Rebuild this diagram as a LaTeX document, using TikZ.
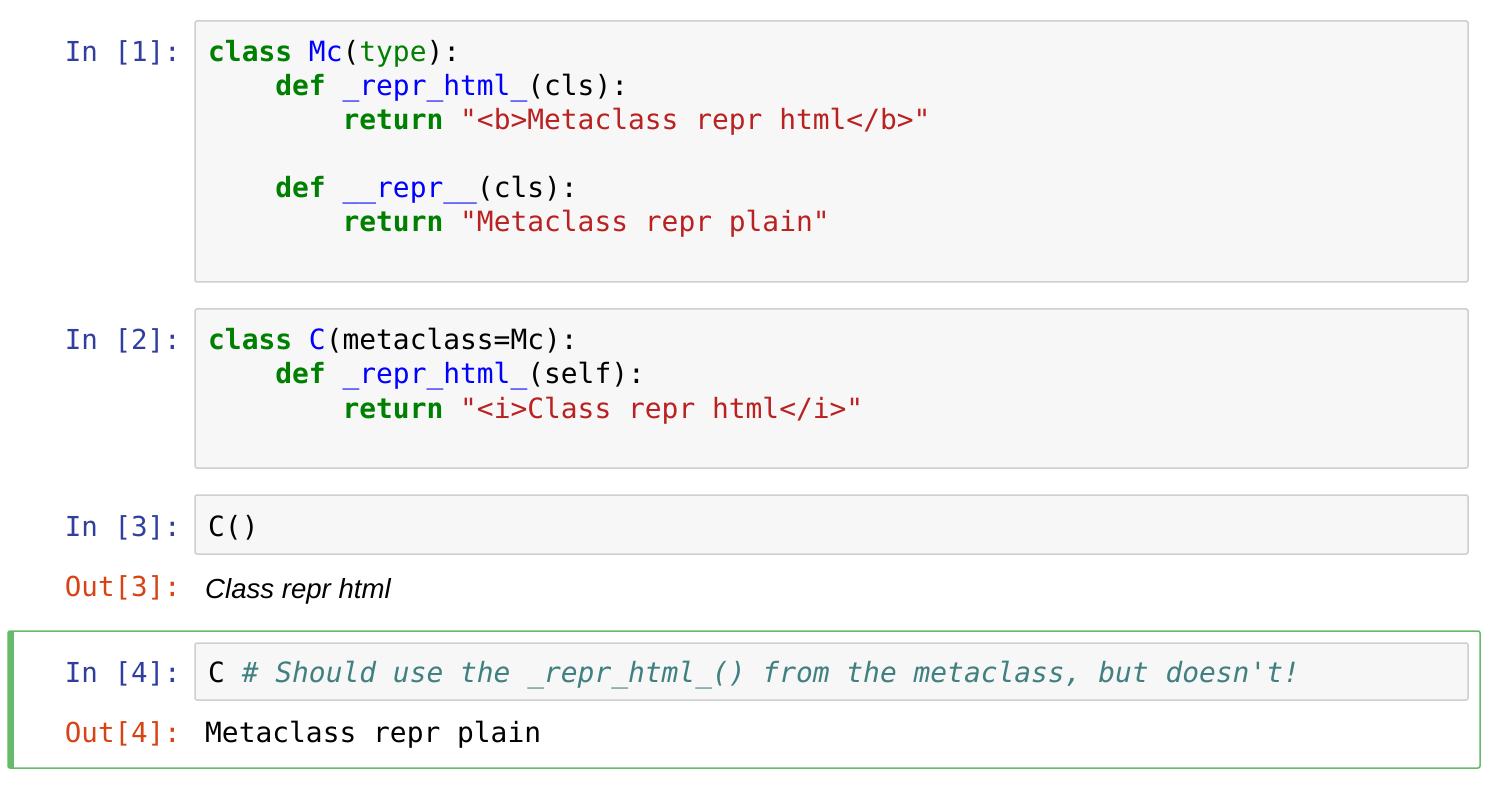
\documentclass[tikz,border=0pt]{standalone}
\usepackage{fontspec}
\setmonofont{DejaVu Sans Mono}
\setsansfont{Liberation Sans}
\definecolor{kw}{HTML}{008000}
\definecolor{nm}{HTML}{0000FF}
\definecolor{st}{HTML}{BA2121}
\definecolor{cm}{HTML}{408080}
\definecolor{pin}{HTML}{303F9F}
\definecolor{pout}{HTML}{D84315}
\definecolor{cellbg}{HTML}{F7F7F7}
\definecolor{cellbd}{HTML}{CFCFCF}
\definecolor{sel}{HTML}{66BB6A}
\newcommand{\K}[1]{\textcolor{kw}{\textbf{#1}}}
\newcommand{\N}[1]{\textcolor{nm}{#1}}
\newcommand{\Sg}[1]{\textcolor{st}{#1}}
\begin{document}
\begin{tikzpicture}[x=1pt,y=-1pt,
  code/.style={anchor=base west,inner sep=0pt,font=\fontsize{27.9}{30}\ttfamily},
  pin/.style={anchor=base east,inner sep=0pt,font=\fontsize{27.5}{30}\ttfamily,text=pin},
  pout/.style={anchor=base east,inner sep=0pt,font=\fontsize{27.5}{30}\ttfamily,text=pout},
  cellbox/.style={draw=cellbd,fill=cellbg,line width=1.5pt,rounded corners=2pt}]
\useasboundingbox (0,0) rectangle (1500,786);
\fill[white] (0,0) rectangle (1500,786);
% selected cell
\draw[sel,line width=1.5pt,rounded corners=2pt] (8,631) rectangle (1480,768);
\fill[sel] (8,631) rectangle (14,768);
% boxes
\draw[cellbox] (195,21) rectangle (1468,282);
\draw[cellbox] (195,309) rectangle (1468,468);
\draw[cellbox] (195,495) rectangle (1468,554);
\draw[cellbox] (195,643) rectangle (1468,700);
% cell 1
\node[pin] (p1) at (181,62) {In [1]:};
\node[code] (c11) at (208,62) {\K{class} \N{Mc}(\textcolor{kw}{type}):};
\node[code] (c12) at (208,96) {\phantom{xxxx}\K{def} \N{\_repr\_html\_}(cls):};
\node[code] (c13) at (208,130) {\phantom{xxxxxxxx}\K{return} \Sg{"<b>Metaclass repr html</b>"}};
\node[code] (c14) at (208,198) {\phantom{xxxx}\K{def} \N{\_\_repr\_\_}(cls):};
\node[code] (c15) at (208,232) {\phantom{xxxxxxxx}\K{return} \Sg{"Metaclass repr plain"}};
% cell 2
\node[pin] (p2) at (181,350) {In [2]:};
\node[code] (c21) at (208,350) {\K{class} \N{C}(metaclass=Mc):};
\node[code] (c22) at (208,384) {\phantom{xxxx}\K{def} \N{\_repr\_html\_}(self):};
\node[code] (c23) at (208,418) {\phantom{xxxxxxxx}\K{return} \Sg{"<i>Class repr html</i>"}};
% cell 3
\node[pin] (p3) at (181,536) {In [3]:};
\node[code] (c31) at (208,536) {C()};
\node[pout] (o3) at (181,596) {Out[3]:};
\node[anchor=base west,inner sep=0pt,font=\fontsize{27.6}{30}\sffamily\itshape] (r3) at (205,598) {Class repr html};
% cell 4
\node[pin] (p4) at (181,682) {In [4]:};
\node[code] (c41) at (208,682) {C \textcolor{cm}{\itshape \# Should use the \_repr\_html\_() from the metaclass, but doesn't!}};
\node[pout] (o4) at (181,742) {Out[4]:};
\node[code] (r4) at (205,742) {Metaclass repr plain};
\end{tikzpicture}
\end{document}
